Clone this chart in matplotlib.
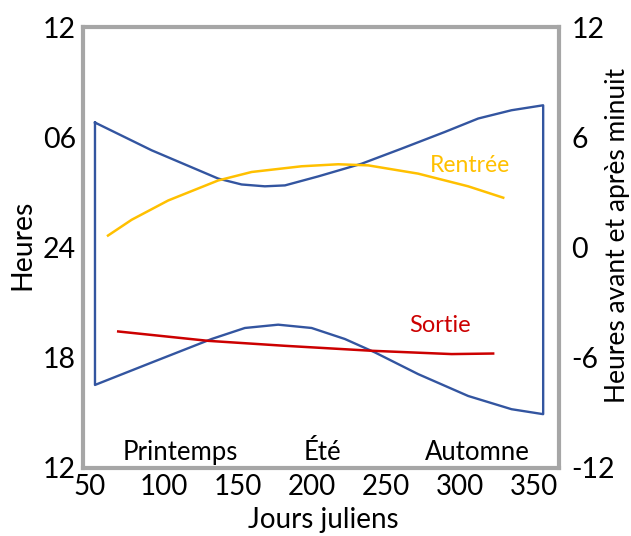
import matplotlib
matplotlib.use("Agg")
import matplotlib.pyplot as plt

plt.rcParams['font.family'] = ['Lato', 'DejaVu Sans']

# Envelope (blue): upper edge (left to right), then lower edge (right to left)
upper_days = [53.4, 91.7, 136.7, 152.5, 168.2, 181.8, 204.3, 233.6, 260.6, 289.9, 312.4, 334.9, 356.3]
upper_vals = [6.80, 5.29, 3.75, 3.43, 3.33, 3.38, 3.87, 4.56, 5.38, 6.29, 7.02, 7.47, 7.74]
lower_days = [356.3, 334.9, 305.6, 271.8, 242.6, 222.3, 199.8, 177.2, 154.7, 132.2, 91.7, 53.4]
lower_vals = [-9.07, -8.80, -8.08, -6.89, -5.71, -4.98, -4.38, -4.20, -4.38, -4.98, -6.26, -7.48]

# Rentrée (yellow)
rentree_days = [62.2, 78.2, 102.9, 136.7, 159.3, 193.0, 217.8, 238.0, 271.8, 305.6, 329.3]
rentree_vals = [0.65, 1.51, 2.56, 3.65, 4.11, 4.42, 4.53, 4.47, 4.02, 3.33, 2.71]

# Sortie (red)
sortie_days = [69.1, 129.9, 181.8, 240.3, 294.4, 322.5]
sortie_vals = [-4.57, -5.08, -5.35, -5.62, -5.80, -5.77]

x_ticks = [50, 100, 150, 200, 250, 300, 350]
y_ticks = [-12, -6, 0, 6, 12]
left_labels = ["12", "18", "24", "06", "12"]
right_labels = ["-12", "-6", "0", "6", "12"]
seasons = ["Printemps", "Été", "Automne"]
season_days = [110.8, 206.8, 312.0]

W, H = 631, 536
fig = plt.figure(figsize=(W / 100, H / 100), dpi=100)
ax = fig.add_axes([83 / W, 1 - 468 / H, 476 / W, 441 / H])

env_days = upper_days + lower_days + [upper_days[0]]
env_vals = upper_vals + lower_vals + [upper_vals[0]]
blue = '#3355A0'
ax.plot(env_days, env_vals, color=blue, lw=1.7, solid_joinstyle='round')
ax.plot(rentree_days, rentree_vals, color='#FFC000', lw=1.8, solid_joinstyle='round')
ax.plot(sortie_days, sortie_vals, color='#CC0000', lw=1.8, solid_joinstyle='round')

ax.set_xlim(45.3, 367)
ax.set_ylim(-12, 12)
ax.set_xticks(x_ticks)
ax.set_xticklabels([str(t) for t in x_ticks], fontsize=20)
ax.set_yticks(y_ticks)
ax.set_yticklabels(left_labels, fontsize=20.5)
ax.tick_params(axis='y', length=0, pad=5)
ax.tick_params(axis='x', length=0, pad=4)
for s in ax.spines.values():
    s.set_color('#A6A6A6')
    s.set_linewidth(3)

ax2 = ax.twinx()
ax2.set_ylim(-12, 12)
ax2.set_yticks(y_ticks)
ax2.set_yticklabels(right_labels, fontsize=20.5)
ax2.tick_params(length=0, pad=9)
for s in ax2.spines.values():
    s.set_visible(False)

fig.text(323 / W, 1 - 520 / H, "Jours juliens", fontsize=20, ha='center', va='center')
fig.text(22 / W, 1 - 245 / H, "Heures", fontsize=20.5, rotation=90, ha='center', va='center')
fig.text(617 / W, 1 - 235 / H, "Heures avant et après minuit", fontsize=19,
         rotation=90, ha='center', va='center')

for name, d in zip(seasons, season_days):
    ax.text(d, -11.57, name, fontsize=18.5, ha='center', va='baseline')
ax.text(306.8, 4.09, "Rentrée", fontsize=16.5, color='#FFC000', ha='center', va='baseline')
ax.text(286.5, -4.58, "Sortie", fontsize=17, color='#CC0000', ha='center', va='baseline')

fig.savefig("out.png", dpi=100)
